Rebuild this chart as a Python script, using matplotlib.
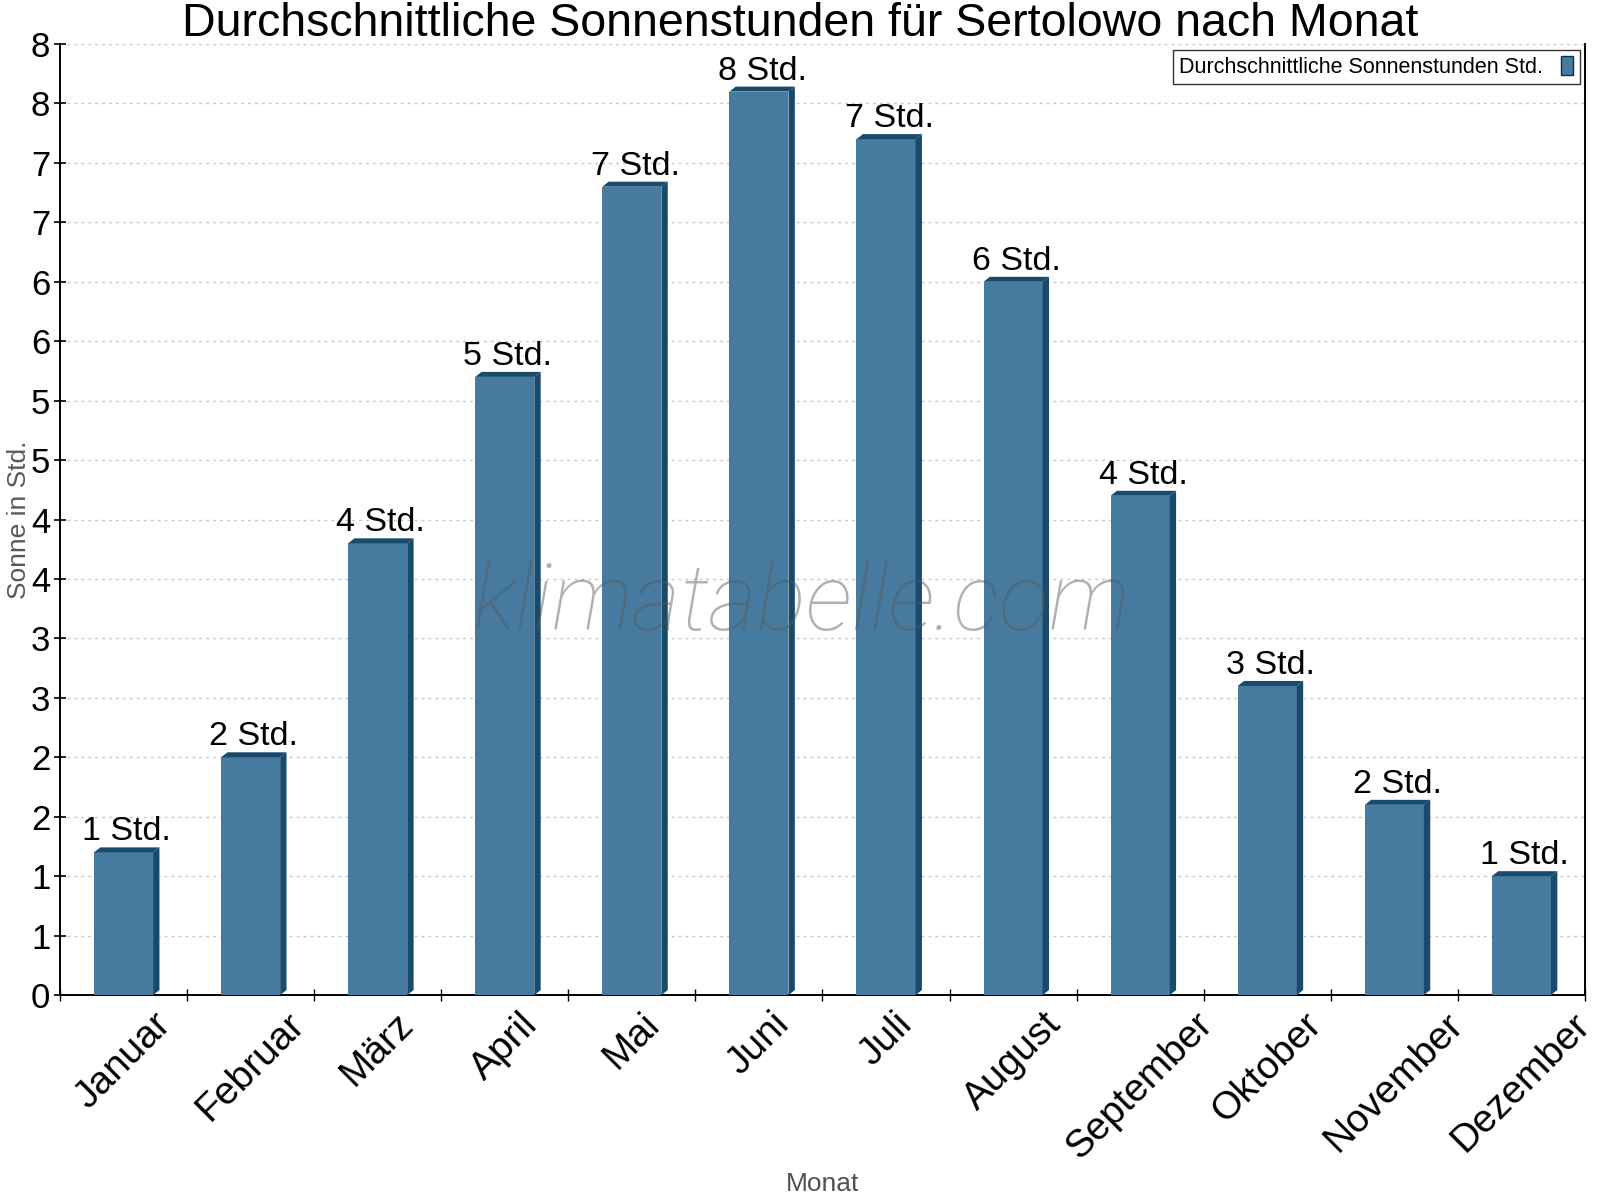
import numpy as np
import matplotlib
matplotlib.use("Agg")
import matplotlib.pyplot as plt
from matplotlib.patches import Polygon
from matplotlib.ticker import FuncFormatter, FixedLocator

months = ["Januar", "Februar", "März", "April", "Mai", "Juni", "Juli",
          "August", "September", "Oktober", "November", "Dezember"]
sun_hours = [1.2, 2.0, 3.8, 5.2, 6.8, 7.6, 7.2, 6.0, 4.2, 2.6, 1.6, 1.0]
title = "Durchschnittliche Sonnenstunden für Sertolowo nach Monat"
legend_label = "Durchschnittliche Sonnenstunden Std."
y_label = "Sonne in Std."
x_label = "Monat"
watermark = "klimatabelle.com"

plt.rcParams['font.family'] = ['Liberation Sans', 'DejaVu Sans']

FRONT = "#467a9e"
DARK = "#184a6c"

fig = plt.figure(figsize=(16, 12), dpi=100)
ax = fig.add_axes([0.0375, 0.1708, 0.9531, 0.7925])

x = np.arange(len(months))
width = 0.465
dx = 0.05   # 3D depth in category units
dy = 0.042  # 3D depth in value units

bars = ax.bar(x, sun_hours, width=width, color=FRONT, zorder=3, label=legend_label,
              linewidth=0)
for rect, h in zip(bars, sun_hours):
    x0 = rect.get_x()
    x1 = x0 + rect.get_width()
    side = Polygon([(x1, 0), (x1 + dx, dy), (x1 + dx, h + dy), (x1, h)],
                   closed=True, facecolor=DARK, edgecolor='none', zorder=3)
    top = Polygon([(x0, h), (x0 + dx, h + dy), (x1 + dx, h + dy), (x1, h)],
                  closed=True, facecolor=DARK, edgecolor='none', zorder=3)
    ax.add_patch(side)
    ax.add_patch(top)
    ax.annotate(f"{int(np.floor(h + 0.5))} Std.", xy=(x0 + rect.get_width() / 2 + dx / 2, h + dy),
                xytext=(0, 0), textcoords='offset points', ha='center', va='bottom',
                fontsize=24.5, color='black', zorder=5)

ax.set_xlim(-0.5, len(months) - 0.5)
ax.set_ylim(0, 8)

# y ticks every 0.5, labelled rounded
ax.yaxis.set_major_locator(FixedLocator(np.arange(0, 8.01, 0.5)))
ax.yaxis.set_major_formatter(FuncFormatter(lambda v, p: f"{int(np.floor(v + 0.5))}"))
ax.tick_params(axis='y', direction='inout', length=8, width=1.2, labelsize=25, pad=3)

ax.set_xticks(x)
ax.set_xticklabels(months, rotation=45, ha='center', fontsize=28)
ax.tick_params(axis='x', which='major', length=0, pad=8)
ax.set_xticks(np.arange(-0.5, len(months), 1), minor=True)
ax.tick_params(axis='x', which='minor', direction='inout', length=8, width=1.0)

ax.grid(axis='y', color='#c8c8c8', linestyle=(0, (2, 3)), linewidth=1.0, zorder=0)
ax.set_axisbelow(True)

for s in ['left', 'bottom', 'right']:
    ax.spines[s].set_color('black')
    ax.spines[s].set_linewidth(1.4)
ax.spines['top'].set_visible(False)

ax.set_ylabel(y_label, fontsize=19, color='#555a60')
ax.yaxis.set_label_coords(-0.019, 0.5)
ax.set_xlabel(x_label, fontsize=19, color='#4d5359')
ax.xaxis.set_label_coords(0.5, -0.186)

fig.text(0.5, 0.9985, title, ha='center', va='top', fontsize=33.5, color='black')

ax.text(0.486, 0.41, watermark, transform=ax.transAxes, ha='center', va='center',
        fontsize=67, family=['Roboto', 'DejaVu Sans'], fontweight='light', style='italic',
        color='#585858', alpha=0.47, zorder=6)

leg = ax.legend(loc='upper right', bbox_to_anchor=(0.9967, 0.994), fontsize=15.5,
                markerfirst=False, frameon=True, fancybox=False, shadow=False,
                handlelength=0.6, handleheight=0.95, handletextpad=0.8,
                borderpad=0.3, borderaxespad=0)
leg.get_frame().set_edgecolor('black')
leg.get_frame().set_linewidth(1.0)
for p in leg.get_patches():
    p.set_edgecolor('#1a2a3a')
    p.set_linewidth(1.0)

fig.savefig("out.png", dpi=100, facecolor='white')
